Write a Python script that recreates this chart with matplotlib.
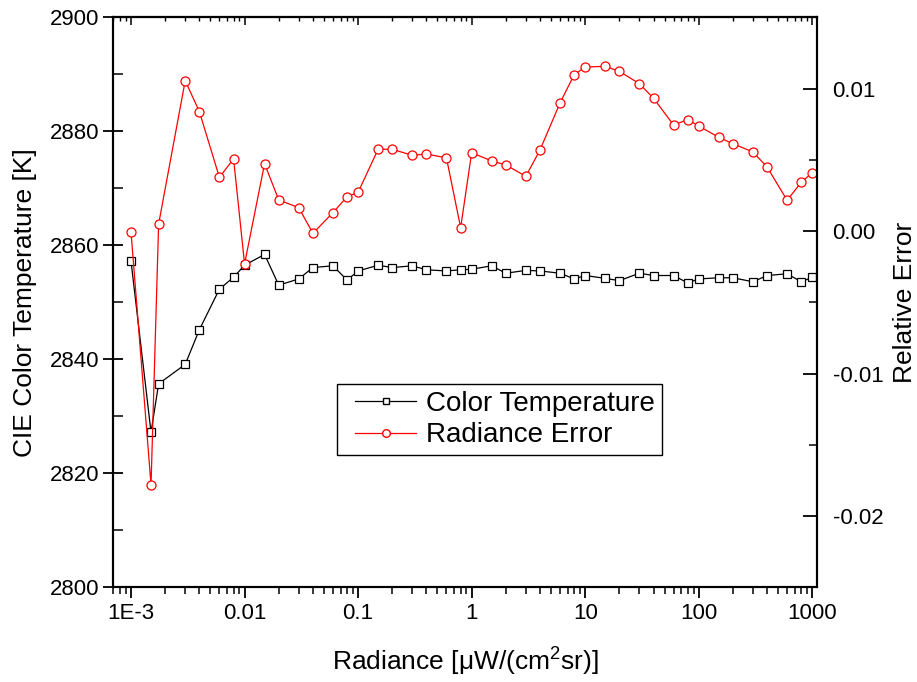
import matplotlib
matplotlib.use("Agg")
import matplotlib.pyplot as plt
import matplotlib.ticker as mticker
from matplotlib.lines import Line2D
from matplotlib.legend_handler import HandlerLine2D

plt.rcParams['font.family'] = ['Liberation Sans', 'DejaVu Sans']
plt.rcParams['mathtext.fontset'] = 'custom'
plt.rcParams['mathtext.rm'] = 'Liberation Sans'
plt.rcParams['mathtext.it'] = 'Liberation Sans:italic'

# radiance values (uW/(cm^2 sr))
radiance = [0.001, 0.0015, 0.00175, 0.003, 0.004, 0.006, 0.008, 0.01, 0.015, 0.02,
            0.03, 0.04, 0.06, 0.08, 0.1, 0.15, 0.2, 0.3, 0.4, 0.6, 0.8, 1, 1.5, 2,
            3, 4, 6, 8, 10, 15, 20, 30, 40, 60, 80, 100, 150, 200, 300, 400, 600,
            800, 1000]

color_temp = [2857.2, 2827.2, 2835.7, 2839.1, 2845.2, 2852.3, 2854.4, 2856.5, 2858.4, 2853.0,
              2854.1, 2856.1, 2856.4, 2853.9, 2855.5, 2856.5, 2856.1, 2856.4, 2855.7, 2855.5,
              2855.7, 2855.8, 2856.4, 2855.1, 2855.6, 2855.5, 2855.1, 2854.1, 2854.7, 2854.2,
              2853.8, 2855.1, 2854.7, 2854.7, 2853.4, 2854.1, 2854.3, 2854.3, 2853.6, 2854.7,
              2855.0, 2853.6, 2854.4]

rad_error = [-0.00007, -0.01782, 0.00049, 0.01055, 0.00838, 0.00377, 0.00506, -0.00231, 0.00473, 0.00218,
             0.00164, -0.00016, 0.00129, 0.00241, 0.00272, 0.00574, 0.00574, 0.00531, 0.00541, 0.00513,
             0.00024, 0.00550, 0.00492, 0.00464, 0.00384, 0.00569, 0.00899, 0.01097, 0.01151, 0.01156,
             0.01121, 0.01034, 0.00932, 0.00744, 0.00782, 0.00737, 0.00658, 0.00613, 0.00555, 0.00449,
             0.00216, 0.00342, 0.00410]

xtick_vals = [0.001, 0.01, 0.1, 1, 10, 100, 1000]
xtick_labels = ["1E-3", "0.01", "0.1", "1", "10", "100", "1000"]

fig = plt.figure(figsize=(9.17, 6.82), dpi=100)
ax = fig.add_axes([113.3/917, 1-587.3/682, (817.3-113.3)/917, (587.3-17.3)/682])
ax2 = ax.twinx()

ax.plot(radiance, color_temp, color="k", lw=0.9, marker="s", ms=6,
        mfc="white", mec="k", mew=0.9)
ax2.plot(radiance, rad_error, color="red", lw=0.9, marker="o", ms=6.5,
         mfc="white", mec="red", mew=0.9)

ax.set_xscale("log")
ax.set_xlim(6.98e-4, 1107)
ax.set_ylim(2800, 2900)
ax2.set_ylim(-0.025, 0.015)

ax.set_xticks(xtick_vals)
ax.set_xticklabels(xtick_labels)
ax.xaxis.set_minor_locator(mticker.LogLocator(base=10, subs=range(2, 10), numticks=20))
ax.xaxis.set_minor_formatter(mticker.NullFormatter())
ax.yaxis.set_major_locator(mticker.MultipleLocator(20))
ax.yaxis.set_minor_locator(mticker.MultipleLocator(10))
ax2.yaxis.set_major_locator(mticker.MultipleLocator(0.01))
ax2.yaxis.set_minor_locator(mticker.MultipleLocator(0.005))
ax2.yaxis.set_major_formatter(mticker.FuncFormatter(lambda v, p: f"{v:.2f}"))

for a in (ax, ax2):
    for s in a.spines.values():
        s.set_linewidth(1.5)

ax.tick_params(axis="x", which="major", direction="out", length=8, width=1.3,
               labelsize=16, pad=3, top=False)
ax.tick_params(axis="x", which="minor", direction="out", length=5, width=1.1, top=False)
ax.tick_params(axis="y", which="major", direction="inout", length=14, width=1.3,
               labelsize=16, pad=3)
ax.tick_params(axis="y", which="minor", direction="in", length=7, width=1.1)
ax2.tick_params(axis="y", which="major", direction="in", length=10, width=1.3,
                labelsize=16, pad=11)
ax2.tick_params(axis="y", which="minor", direction="in", length=6, width=1.1)

# top axis ticks pointing inward
sec = ax.secondary_xaxis("top")
sec.set_xticks(xtick_vals)
sec.xaxis.set_minor_locator(mticker.LogLocator(base=10, subs=range(2, 10), numticks=20))
sec.tick_params(which="major", direction="in", length=6, width=1.1, labeltop=False)
sec.tick_params(which="minor", direction="in", length=3, width=1.0)
sec.spines["top"].set_linewidth(1.5)

ax.set_xlabel("Radiance [μW/(cm$^{2}$sr)]", fontsize=19)
ax.set_ylabel("CIE Color Temperature [K]", fontsize=19)
ax2.set_ylabel("Relative Error", fontsize=19)
ax.xaxis.set_label_coords(0.5, -(662 - 587.3) / 570, transform=ax.transAxes)
ax.xaxis.label.set_va("center")
ax.yaxis.set_label_coords(-(113.3 - 25) / 704, 0.5)
ax.yaxis.label.set_va("center")
ax2.yaxis.set_label_coords((905 - 113.3) / 704, 0.5)
ax2.yaxis.label.set_va("center")

handles = [
    Line2D([], [], color="k", lw=0.9, marker="s", ms=5, mfc="white", mec="k"),
    Line2D([], [], color="red", lw=0.9, marker="o", ms=5.5, mfc="white", mec="red"),
]
leg = ax2.legend(handles, ["Color Temperature", "Radiance Error"], fontsize=20,
                 loc="upper left", bbox_to_anchor=((337-113.3)/704, (587.3-384)/570),
                 frameon=True, fancybox=False, edgecolor="k", framealpha=1,
                 handlelength=2.6, handletextpad=0.35, borderpad=0.25, labelspacing=0.2,
                 borderaxespad=0,
                 handler_map={h: HandlerLine2D(xpad=0.4) for h in handles})
leg.get_frame().set_linewidth(1.0)

fig.savefig("out.png", dpi=100)
